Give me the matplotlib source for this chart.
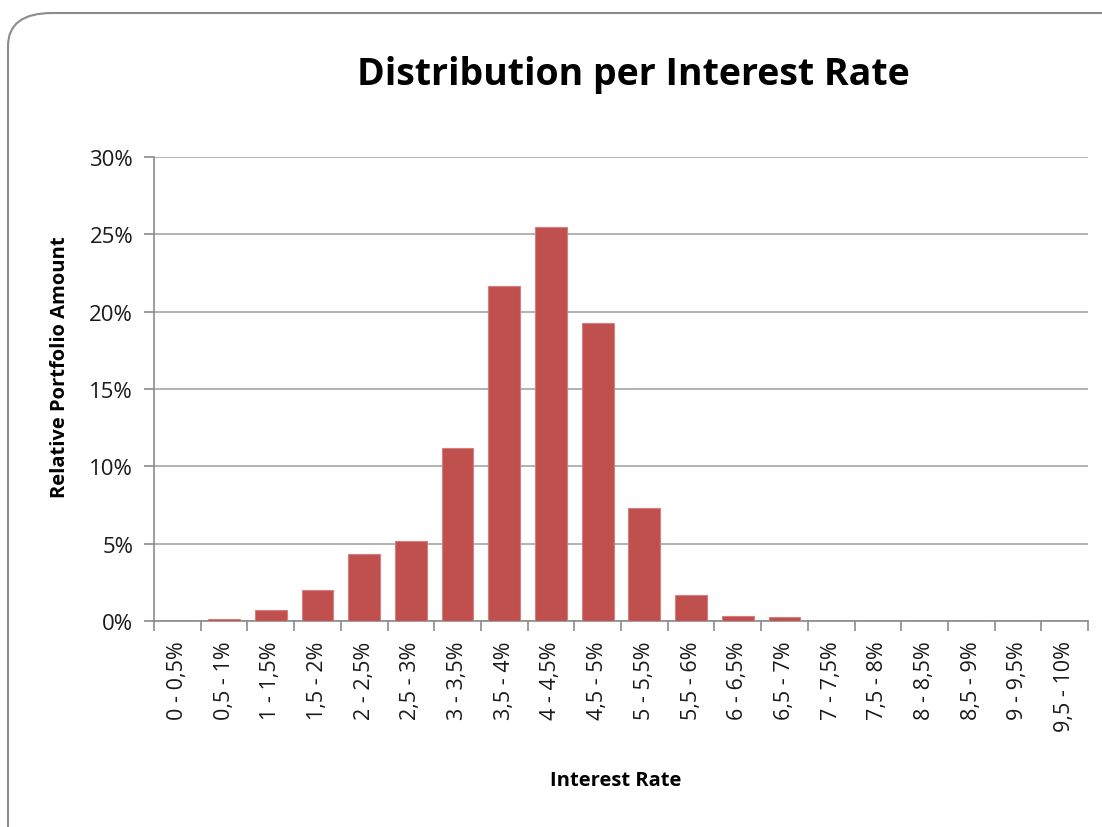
import matplotlib
matplotlib.use("Agg")
import matplotlib.pyplot as plt
from matplotlib.patches import FancyBboxPatch
from matplotlib.ticker import FuncFormatter, FixedLocator

categories = ["0 - 0,5%", "0,5 - 1%", "1 - 1,5%", "1,5 - 2%", "2 - 2,5%", "2,5 - 3%",
              "3 - 3,5%", "3,5 - 4%", "4 - 4,5%", "4,5 - 5%", "5 - 5,5%", "5,5 - 6%",
              "6 - 6,5%", "6,5 - 7%", "7 - 7,5%", "7,5 - 8%", "8 - 8,5%", "8,5 - 9%",
              "9 - 9,5%", "9,5 - 10%"]
values = [0.0, 0.1, 0.7, 2.0, 4.3, 5.2, 11.2, 21.65, 25.45, 19.25, 7.3, 1.7,
          0.35, 0.25, 0, 0, 0, 0, 0, 0]
yticks = [0, 5, 10, 15, 20, 25, 30]

plt.rcParams['font.family'] = ['Open Sans', 'DejaVu Sans']

fig = plt.figure(figsize=(11.02, 8.28), dpi=100)
fig.patch.set_facecolor('white')

frame = FancyBboxPatch((8/1102, -0.2), 1.2, (1 - 14/828) + 0.2,
                       boxstyle="round,pad=0,rounding_size=0.04",
                       transform=fig.transFigure, facecolor='white',
                       edgecolor='#8c8c8c', linewidth=1.5, zorder=-5)
fig.patches.append(frame)

ax = fig.add_axes([154/1102, 1 - 622/828, (1088 - 154)/1102, (622 - 158)/828])
ax.set_zorder(2)
ax.set_facecolor('none')
x = list(range(len(categories)))
ax.bar(x, values, width=0.68, color='#C0504D', edgecolor='#D47F7D', linewidth=0.8, zorder=3)

ax.set_xlim(-0.5, len(categories) - 0.5)
ax.set_ylim(0, 30)
ax.set_yticks(yticks)
ax.yaxis.set_major_formatter(FuncFormatter(lambda v, p: f"{int(v)}%"))
ax.grid(axis='y', color='#a6a6a6', linewidth=1.2, zorder=0)

ax.set_xticks(x)
ax.set_xticklabels(categories, rotation=90, fontsize=15.5, color='#1a1a1a')
ax.tick_params(axis='x', which='major', length=0, pad=14)
ax.xaxis.set_minor_locator(FixedLocator([i - 0.5 for i in range(len(categories) + 1)]))
ax.tick_params(axis='x', which='minor', length=7, width=1.2, color='#8c8c8c', direction='out')
ax.tick_params(axis='y', length=7, width=1.2, color='#8c8c8c', labelsize=16, pad=8,
               labelcolor='#1a1a1a')

for s in ['top', 'right']:
    ax.spines[s].set_visible(False)
for s in ['left', 'bottom']:
    ax.spines[s].set_color('#8c8c8c')
    ax.spines[s].set_linewidth(1.2)

fig.text(633/1102, 1 - 75/828, "Distribution per Interest Rate", ha='center', va='center',
         fontsize=27, fontweight='bold', color='black')
fig.text(60/1102, 1 - 367/828, "Relative Portfolio Amount", rotation=90, ha='center', va='center',
         fontsize=14.5, fontweight='bold', color='black')
fig.text(616/1102, 1 - 781/828, "Interest Rate", ha='center', va='center',
         fontsize=14.5, fontweight='bold', color='black')

fig.savefig("out.png", dpi=100, facecolor='white')
